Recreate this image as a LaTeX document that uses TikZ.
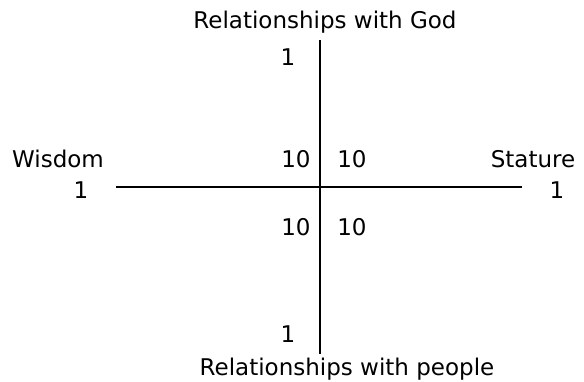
\documentclass[tikz,border=0pt]{standalone}
\usepackage{fontspec}
\setmainfont{DejaVu Sans}
\begin{document}
\begin{tikzpicture}[x=1pt,y=-1pt,
  lbl/.style={inner sep=0pt,anchor=base,font=\fontsize{23}{26}\selectfont},
  axis/.style={line width=1.6pt}]
\useasboundingbox (0,0) rectangle (584,381);
\coordinate (vt) at (320,40);
\coordinate (vb) at (320,354);
\coordinate (hl) at (116,187);
\coordinate (hr) at (522,187);
\draw[axis] (vt) -- (vb);
\draw[axis] (hl) -- (hr);
\node[lbl] (god) at (325,28) {Relationships with God};
\node[lbl] (top1) at (288,65) {1};
\node[lbl] (wis) at (58,167) {Wisdom};
\node[lbl] (left1) at (81,198) {1};
\node[lbl] (ul10) at (296,167) {10};
\node[lbl] (ur10) at (352,167) {10};
\node[lbl] (stat) at (533,167) {Stature};
\node[lbl] (right1) at (557,198) {1};
\node[lbl] (ll10) at (296,235) {10};
\node[lbl] (lr10) at (352,235) {10};
\node[lbl] (bot1) at (288,342) {1};
\node[lbl] (ppl) at (347,375) {Relationships with people};
\end{tikzpicture}
\end{document}
